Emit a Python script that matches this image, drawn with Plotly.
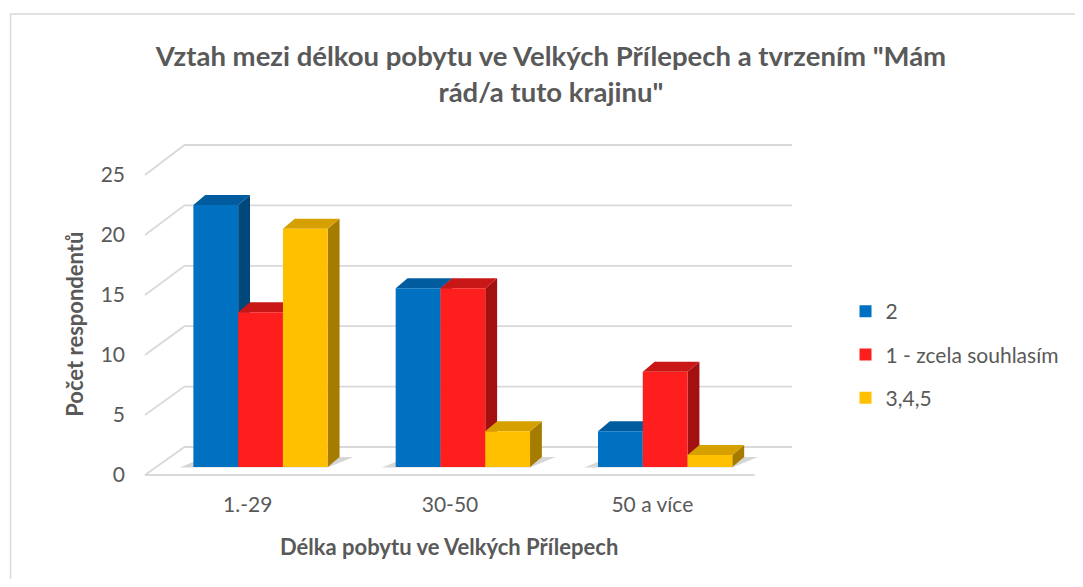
import plotly.graph_objects as go

# ---------------- data ----------------
categories = ["1.-29", "30-50", "50 a více"]
series_names = ["2", "1 - zcela souhlasím", "3,4,5"]
values_2 = [22, 15, 3]
values_1 = [13, 15, 8]
values_345 = [20, 3, 1]
y_ticks = [0, 5, 10, 15, 20, 25]

series_values = [values_2, values_1, values_345]
front_colors = ["#0070C0", "#FF1E1E", "#FFC000"]
top_colors = ["#005C9F", "#C91717", "#D6A100"]
side_colors = ["#00477A", "#A31010", "#A67C00"]

# ---------------- layout calibration (screen pixels) ----------------
OFF = 8                      # page body margin
SCREEN_W, SCREEN_H = 1083, 587
W, H = SCREEN_W - 2 * OFF, SCREEN_H - 2 * OFF
L, R, T, B = 140, 812, 130, 488
CAT_PX, X0_PX, BASE_PX, UNIT_PX = 204.75, 262, 467, 11.91

def xd(px):
    return (px - X0_PX) / CAT_PX

def yd(py):
    return (BASE_PX - py) / UNIT_PX

def xp(px):
    return (px - L) / (R - L)

def yp(py):
    return (B - py) / (B - T)

BARGAP = 0.336
bw = (1 - BARGAP) / 3
DX = 12 / CAT_PX
DY = 10 / UNIT_PX

FRONT_LEFT_X, BACK_LEFT_X, BACK_RIGHT_X, FRONT_RIGHT_X = 145, 185, 800, 762
FRONT0_Y, FRONT_STEP = 475, 12.0
BACK0_Y, BACK_STEP = 447, 12.08
GRID = "#D9D9D9"
TXT = "#595959"
FONT = "Lato"

shapes = []
# walls / gridlines (perspective)
for v in y_ticks:
    fy = yd(FRONT0_Y - FRONT_STEP * v)
    by = yd(BACK0_Y - BACK_STEP * v)
    shapes.append(dict(type="path", xref="x", yref="y", layer="below",
                       path=f"M{xd(FRONT_LEFT_X)},{fy} L{xd(BACK_LEFT_X)},{by} L{xd(BACK_RIGHT_X)},{by}",
                       line=dict(color=GRID, width=1.8)))
# floor front edge
shapes.append(dict(type="line", xref="x", yref="y", layer="below",
                   x0=xd(FRONT_LEFT_X), x1=xd(FRONT_RIGHT_X),
                   y0=yd(FRONT0_Y), y1=yd(FRONT0_Y),
                   line=dict(color=GRID, width=1.8)))

# soft floor shadows under each group
SH = 14 / CAT_PX
for i in range(len(categories)):
    gl = i - 1.5 * bw
    gr = i + 1.5 * bw
    shapes.append(dict(type="path", xref="x", yref="y", layer="below",
                       path=f"M{gl-SH},{-0.05} L{gr},{-0.05} L{gr+DX+SH},{DY} L{gl+DX},{DY} Z",
                       fillcolor="rgba(0,0,0,0.16)", line=dict(width=0)))

# 3D faces of bars (side + top), drawn beneath the bar fronts
for i in range(len(categories)):
    for j, vals in enumerate(series_values):
        v = vals[i]
        xc = i + (j - 1) * bw
        xl, xr = xc - bw / 2, xc + bw / 2
        shapes.append(dict(type="path", xref="x", yref="y", layer="below",
                           path=f"M{xr},0 L{xr+DX},{DY} L{xr+DX},{v+DY} L{xr},{v} Z",
                           fillcolor=side_colors[j], line=dict(width=0)))
        shapes.append(dict(type="path", xref="x", yref="y", layer="below",
                           path=f"M{xl},{v} L{xl+DX},{v+DY} L{xr+DX},{v+DY} L{xr},{v} Z",
                           fillcolor=top_colors[j], line=dict(width=0)))

# chart border
shapes.append(dict(type="rect", xref="paper", yref="paper",
                   x0=xp(9), x1=xp(1100), y0=yp(600), y1=yp(14),
                   line=dict(color="#D9D9D9", width=1.5), layer="below"))

fig = go.Figure()
for j, vals in enumerate(series_values):
    fig.add_trace(go.Bar(
        x=list(range(len(categories))), y=vals, name=series_names[j],
        marker=dict(color=front_colors[j], line=dict(width=0)),
        legendgroup=f"g{j}", hoverinfo="skip",
    ))

fig.update_layout(
    width=W, height=H,
    margin=dict(l=L - OFF, r=SCREEN_W - OFF - R, t=T - OFF, b=SCREEN_H - OFF - B, pad=0),
    paper_bgcolor="white", plot_bgcolor="rgba(0,0,0,0)",
    barmode="group", bargap=BARGAP, bargroupgap=0,
    title=dict(text='Vztah mezi délkou pobytu ve Velkých Přílepech a tvrzením "Mám<br>rád/a tuto krajinu"',
               x=(551 - OFF) / W, xanchor="center", xref="container",
               y=1 - 58 / H, yanchor="top", yref="container",
               font=dict(family=FONT, size=27.5, color=TXT, weight="bold")),
    xaxis=dict(range=[xd(L), xd(R)], showgrid=False, zeroline=False, showline=False,
               tickvals=[i - 13 / CAT_PX for i in range(len(categories))], ticktext=categories,
               tickfont=dict(family=FONT, size=21, color=TXT), ticks="", ticklabelstandoff=2),
    yaxis=dict(range=[yd(B), yd(T)], showgrid=False, zeroline=False, showline=False,
               tickvals=[yd(FRONT0_Y - FRONT_STEP * v) for v in y_ticks],
               ticktext=[str(v) for v in y_ticks],
               tickfont=dict(family=FONT, size=21, color=TXT), ticks="", ticklabelstandoff=14),
    legend=dict(x=xp(854), y=yp(291), xanchor="left", yanchor="top", xref="paper", yref="paper",
                font=dict(family=FONT, size=21, color=TXT), tracegroupgap=13,
                traceorder="grouped", bgcolor="rgba(0,0,0,0)"),
    shapes=shapes,
    annotations=[
        dict(text="Počet respondentů", textangle=-90, x=xp(73), y=yp(324), xref="paper", yref="paper",
             showarrow=False, xanchor="center", yanchor="middle",
             font=dict(family=FONT, size=22, color=TXT, weight="bold")),
        dict(text="Délka pobytu ve Velkých Přílepech", x=xp(453), y=yp(546), xref="paper", yref="paper",
             showarrow=False, xanchor="center", yanchor="middle",
             font=dict(family=FONT, size=22, color=TXT, weight="bold")),
    ],
)

fig.write_html("out.html")
